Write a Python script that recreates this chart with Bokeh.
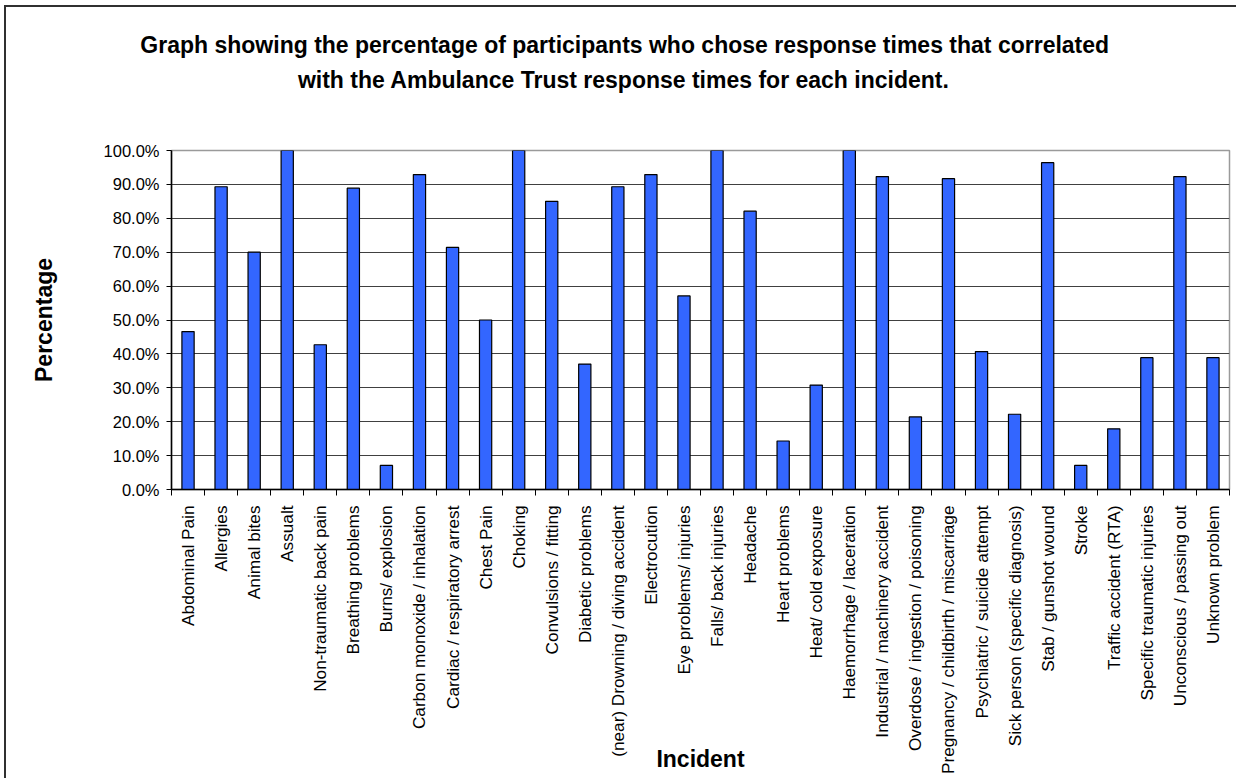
import numpy as np
from bokeh.plotting import figure
from bokeh.models import Range1d, FixedTicker, Title
from bokeh.embed import file_html
from bokeh.resources import INLINE

incidents = [
    "Abdominal Pain", "Allergies", "Animal bites", "Assualt",
    "Non-traumatic back pain", "Breathing problems", "Burns/ explosion",
    "Carbon monoxide / inhalation", "Cardiac / respiratory arrest", "Chest Pain",
    "Choking", "Convulsions / fitting", "Diabetic problems",
    "(near) Drowning / diving accident", "Electrocution", "Eye problems/ injuries",
    "Falls/ back injuries", "Headache", "Heart problems", "Heat/ cold exposure",
    "Haemorrhage / laceration", "Industrial / machinery accident",
    "Overdose / ingestion / poisoning", "Pregnancy / childbirth / miscarriage",
    "Psychiatric / suicide attempt", "Sick person (specific diagnosis)",
    "Stab / gunshot wound", "Stroke", "Traffic accident (RTA)",
    "Specific traumatic injuries", "Unconscious / passing out", "Unknown problem",
]
percent = [
    46.6, 89.3, 70.0, 100.0, 42.7, 88.9, 7.1, 92.9, 71.4, 50.0,
    100.0, 85.0, 37.0, 89.3, 92.9, 57.1, 100.0, 82.1, 14.3, 30.8,
    100.0, 92.3, 21.4, 91.7, 40.7, 22.2, 96.4, 7.1, 17.9, 38.9,
    92.3, 38.9,
]
y_ticks = [0, 10, 20, 30, 40, 50, 60, 70, 80, 90, 100]
y_tick_labels = ["0.0%", "10.0%", "20.0%", "30.0%", "40.0%", "50.0%",
                 "60.0%", "70.0%", "80.0%", "90.0%", "100.0%"]
title_lines = [
    "Graph showing the percentage of participants who chose response times that correlated",
    "with the Ambulance Trust response times for each incident.",
]
y_title = "Percentage"
x_title = "Incident"

FONT = "Liberation Sans"
W, H = 1236, 778
OX, OY = 6, 7                      # outer chart-area border position
CW, CH = W - OX, H - OY            # canvas size
L, R, T, B = 171 - OX, 1229 - OX, 150 - OY, 489 - OY   # plot frame in canvas coords
n = len(incidents)

p = figure(width=CW, height=CH, output_backend="svg", toolbar_location=None,
           x_range=Range1d(-0.5, n - 0.5), y_range=Range1d(0, 100),
           min_border_left=L, min_border_right=CW - R,
           min_border_top=T, min_border_bottom=CH - B,
           margin=(OY, 0, 0, OX),
           styles={"outline": "2px solid #303030"})
p.background_fill_color = "white"
p.border_fill_color = "white"
p.outline_line_color = "#9a9a9a"
p.outline_line_width = 1.5

xs = list(range(n))
p.vbar(x=xs, top=percent, width=0.37, bottom=0,
       fill_color="#3366FF", line_color="black", line_width=1.2)

# y axis
p.yaxis.ticker = FixedTicker(ticks=y_ticks)
p.yaxis.major_label_overrides = {t: s for t, s in zip(y_ticks, y_tick_labels)}
p.yaxis.minor_tick_line_color = None
p.yaxis.major_tick_out = 5
p.yaxis.major_tick_in = 0
p.yaxis.major_label_standoff = 7
p.yaxis.axis_line_color = "black"
p.yaxis.axis_line_width = 1.5
p.yaxis.major_tick_line_color = "black"
p.yaxis.major_label_text_font = FONT
p.yaxis.major_label_text_font_size = "16.5px"
p.yaxis.major_label_text_color = "black"
p.yaxis.axis_label = y_title
p.yaxis.axis_label_text_font = FONT
p.yaxis.axis_label_text_font_style = "bold"
p.yaxis.axis_label_text_font_size = "23px"
p.yaxis.axis_label_text_color = "black"
p.yaxis.axis_label_standoff = 44

# x axis
p.xaxis.ticker = FixedTicker(ticks=xs, minor_ticks=[i - 0.5 for i in range(n + 1)])
p.xaxis.major_label_overrides = {i: s for i, s in enumerate(incidents)}
p.xaxis.major_tick_line_color = None
p.xaxis.major_tick_out = 0
p.xaxis.major_tick_in = 0
p.xaxis.minor_tick_out = 6
p.xaxis.minor_tick_in = 0
p.xaxis.minor_tick_line_color = "black"
p.xaxis.axis_line_color = "black"
p.xaxis.axis_line_width = 1.5
p.xaxis.major_label_orientation = np.pi / 2
p.xaxis.major_label_standoff = 10
p.xaxis.major_label_text_font = FONT
p.xaxis.major_label_text_font_size = "17.2px"
p.xaxis.major_label_text_color = "black"
p.xaxis.axis_label = x_title
p.xaxis.axis_label_text_font = FONT
p.xaxis.axis_label_text_font_style = "bold"
p.xaxis.axis_label_text_font_size = "23px"
p.xaxis.axis_label_text_color = "black"
p.xaxis.axis_label_standoff = -31

p.xgrid.visible = False
p.ygrid.ticker = FixedTicker(ticks=y_ticks)
p.ygrid.grid_line_color = "#404040"
p.ygrid.grid_line_width = 1

# two-line title, centred on x = 624 (window px)
TFS = 23
title_center = 624 - OX
line_em = [42.1, 28.4]   # text widths in em (Liberation Sans Bold)
p.title.text = title_lines[0]
p.title.align = "left"
p.title.offset = title_center - line_em[0] * TFS / 2 - L
p.title.text_font = FONT
p.title.text_font_style = "bold"
p.title.text_font_size = f"{TFS}px"
p.title.text_color = "black"
p.title.standoff = 7

spacer = Title(text=" ", text_font_size="1px", standoff=51)
p.add_layout(spacer, "above")
t2 = Title(text=title_lines[1], align="left",
           offset=title_center - line_em[1] * TFS / 2 - L,
           text_font=FONT, text_font_style="bold", text_font_size=f"{TFS}px",
           text_color="black", standoff=7)
p.add_layout(t2, "above")

open("out.html", "w").write(file_html(p, INLINE))
